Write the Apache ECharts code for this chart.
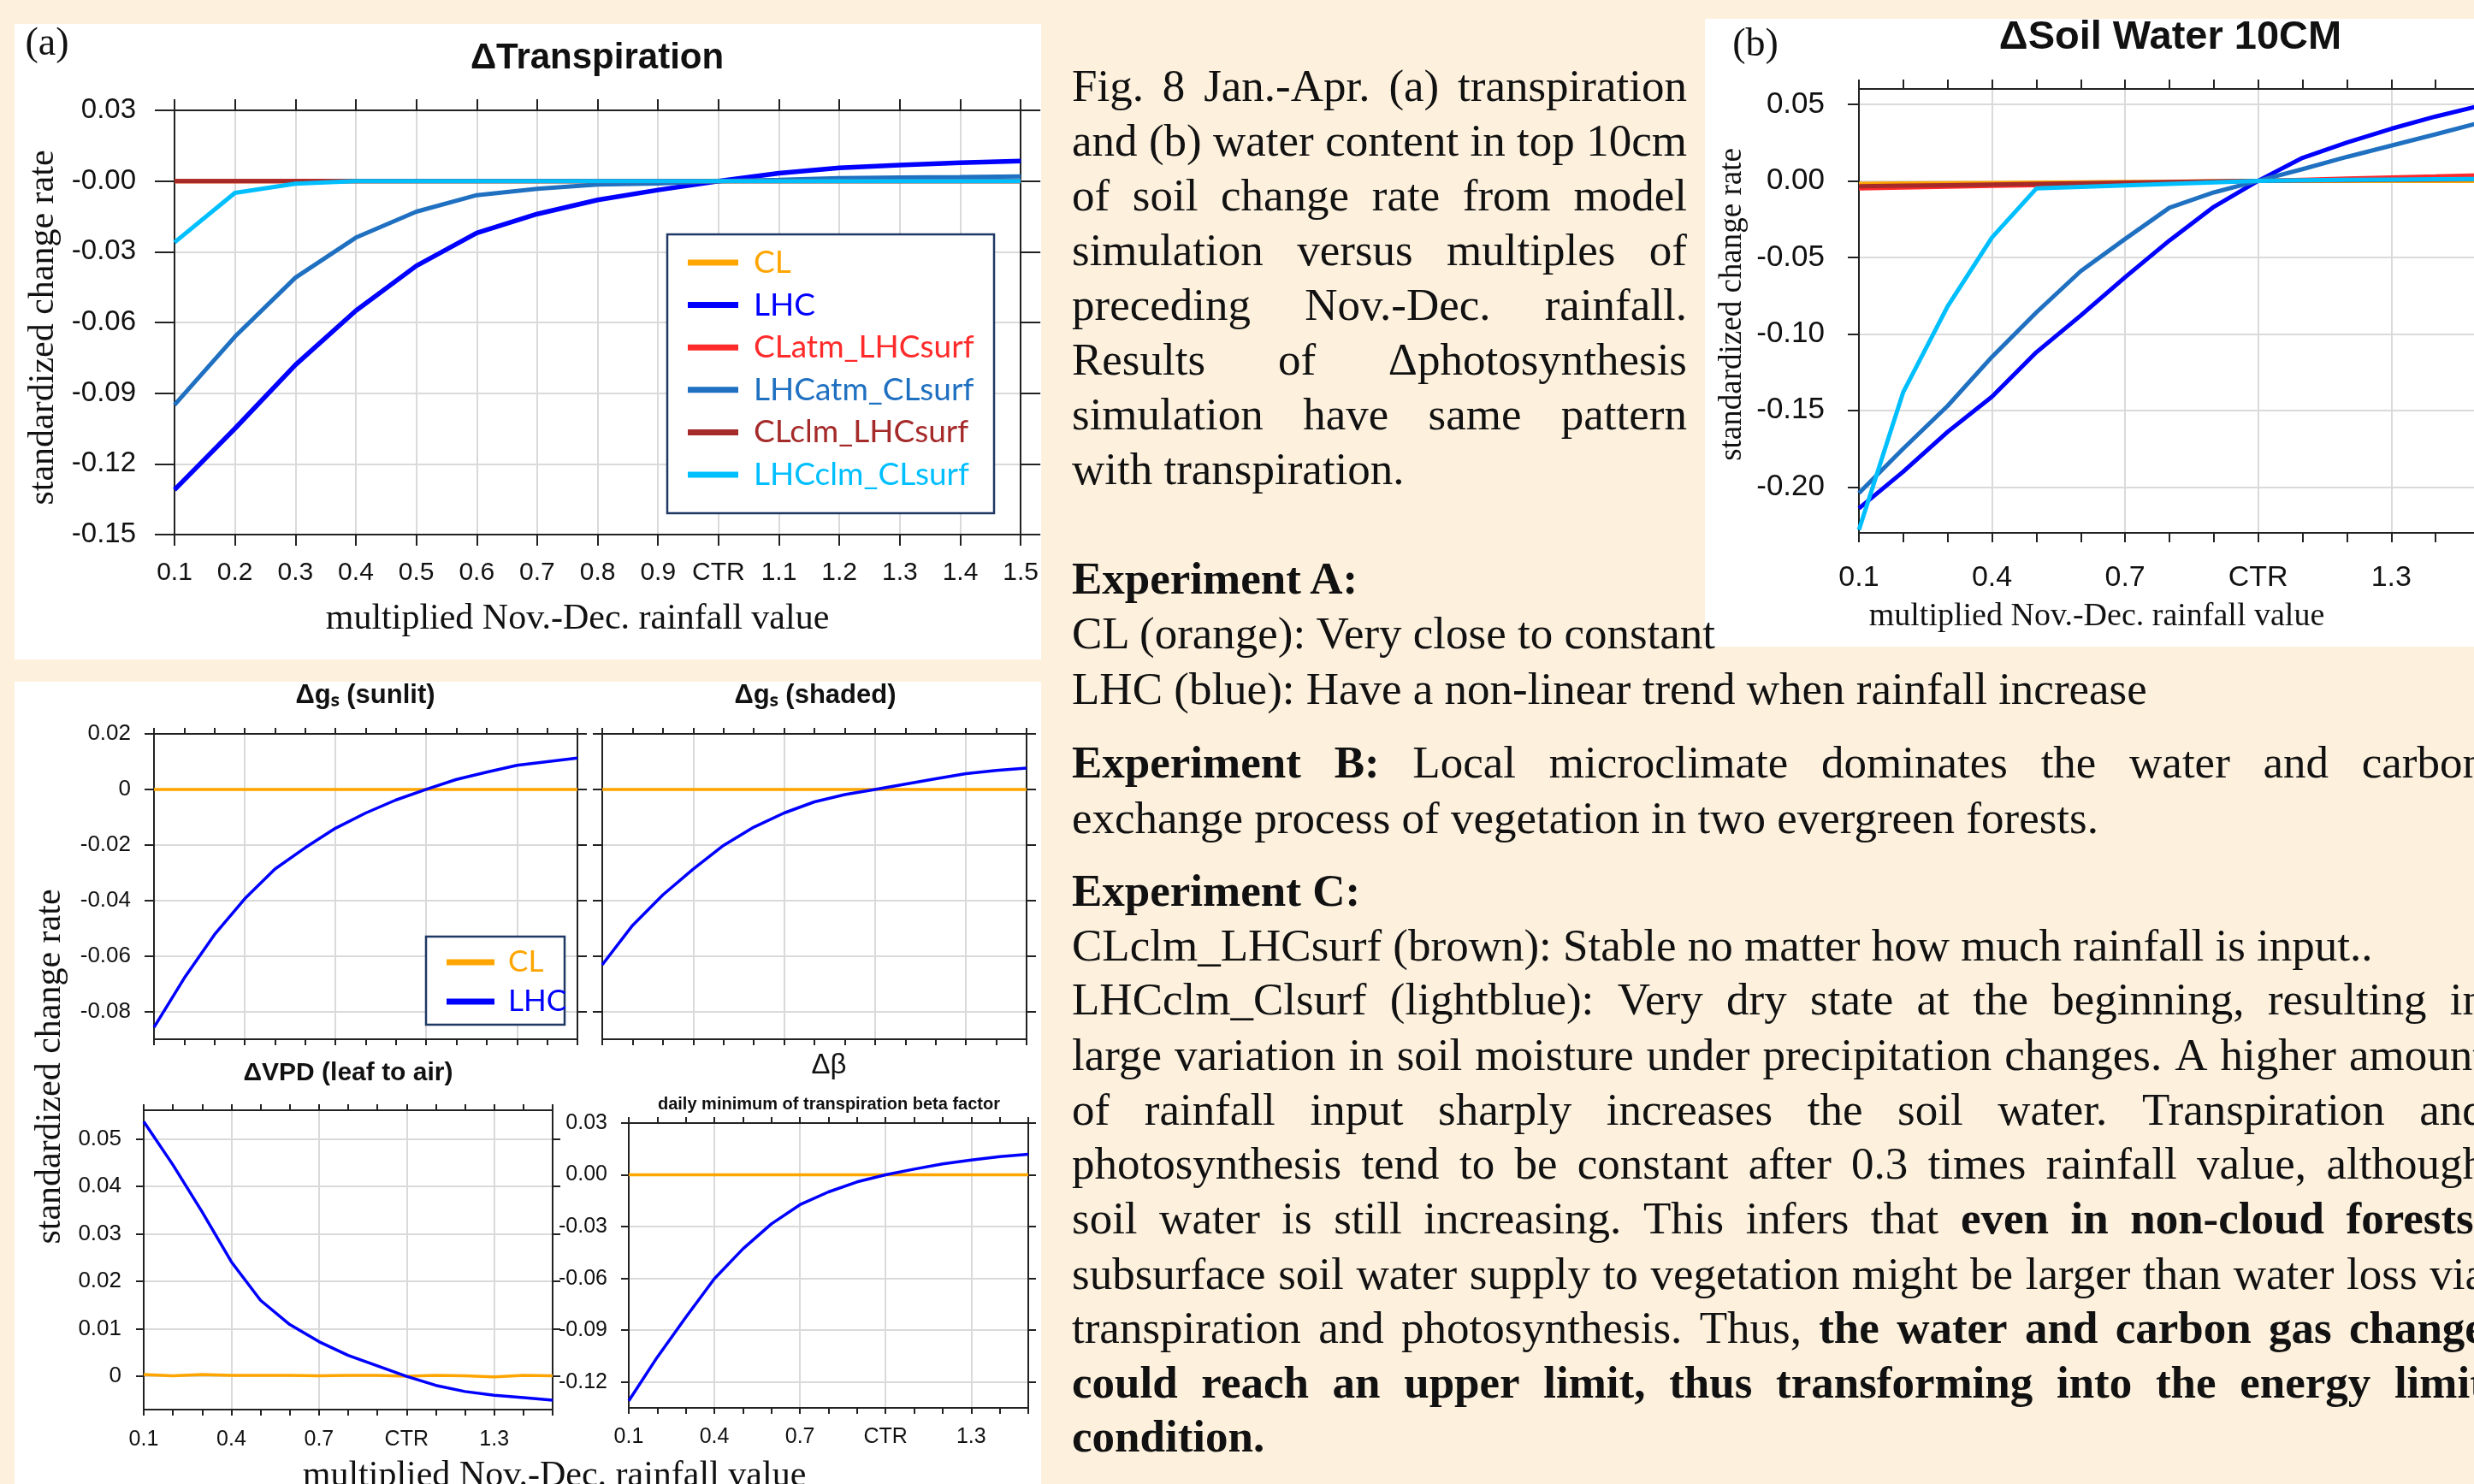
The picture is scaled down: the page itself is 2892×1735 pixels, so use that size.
<!DOCTYPE html>
<html>
<head>
<meta charset="utf-8">
<script src="https://cdn.jsdelivr.net/npm/echarts@6/dist/echarts.min.js"></script>
<style>
  html, body { margin: 0; padding: 0; overflow: hidden; }
  #page { position: relative; width: 2892px; height: 1735px; overflow: hidden; background: #fdf1de; }
  .panel { position: absolute; background: #fff; }
  .ln { position: absolute; left: 1253px; font-family: 'Liberation Serif', 'Times New Roman', serif;
        font-size: 53px; line-height: 64px; color: #111; white-space: pre; }
  .ln.j { display: flex; justify-content: space-between; }
  .ln b { font-weight: bold; }
</style>
</head>
<body>
<div id="page">
  <div id="chartA" class="panel" style="left:17px;top:28px;width:1200px;height:743px"></div>
  <div id="chartB" class="panel" style="left:1993px;top:22px;width:1000px;height:734px"></div>
  <div id="chartC" class="panel" style="left:17px;top:797px;width:1200px;height:938px"></div>
</div>
<script>
// x categories shared by every panel
const cats = ['0.1', '0.2', '0.3', '0.4', '0.5', '0.6', '0.7', '0.8', '0.9', 'CTR', '1.1', '1.2', '1.3', '1.4', '1.5'];

// (a) delta transpiration
const transCL = [0, 0, 0, 0, 0, 0, 0, 0, 0, 0, 0, 0, 0, 0, 0];
const transLHC = [-0.131, -0.105, -0.078, -0.055, -0.036, -0.022, -0.014, -0.008, -0.0038, 0, 0.0033, 0.0056, 0.0068, 0.0078, 0.0085];
const transCLatm = [0, 0, 0, 0, 0, 0, 0, 0, 0, 0, 0, 0, 0, 0, 0];
const transLHCatm = [-0.095, -0.066, -0.041, -0.024, -0.013, -0.006, -0.0033, -0.0015, -0.001, 0, 0.0005, 0.0012, 0.0015, 0.0017, 0.002];
const transCLclm = [0, 0, 0, 0, 0, 0, 0, 0, 0, 0, 0, 0, 0, 0, 0];
const transLHCclm = [-0.026, -0.005, -0.0011, 0, 0, 0, 0, 0, 0, 0, 0, 0, 0, 0, 0];

// (b) delta soil water 10cm
const soilCL = [-0.002, -0.0018, -0.0016, -0.0014, -0.0012, -0.001, -0.0008, -0.0006, -0.0003, 0, 0, 0, 0, 0, 0];
const soilLHC = [-0.214, -0.19, -0.164, -0.141, -0.112, -0.088, -0.063, -0.039, -0.017, 0, 0.015, 0.025, 0.034, 0.042, 0.049];
const soilCLatm = [-0.005, -0.0044, -0.0039, -0.0033, -0.0028, -0.0022, -0.0017, -0.0011, -0.0006, 0, 0.0007, 0.0014, 0.0021, 0.0028, 0.0036];
const soilLHCatm = [-0.204, -0.175, -0.147, -0.115, -0.086, -0.059, -0.038, -0.0176, -0.0076, 0, 0.0076, 0.0156, 0.023, 0.0304, 0.038];
const soilCLclm = [-0.0036, -0.0032, -0.0028, -0.0024, -0.002, -0.0016, -0.0012, -0.0008, -0.0004, 0, 0.0002, 0.0004, 0.0006, 0.0008, 0.001];
const soilLHCclm = [-0.228, -0.138, -0.082, -0.037, -0.005, -0.004, -0.003, -0.002, -0.001, 0, 0.0003, 0.0006, 0.0008, 0.001, 0.0012];
const soilTicks = [-0.2, -0.15, -0.1, -0.05, 0, 0.05];

// lower panels
const gsSunCL = [0, 0, 0, 0, 0, 0, 0, 0, 0, 0, 0, 0, 0, 0, 0];
const gsSunLHC = [-0.0857, -0.068, -0.0523, -0.0394, -0.0287, -0.021, -0.014, -0.0085, -0.0038, 0, 0.0036, 0.0062, 0.0087, 0.01, 0.0113];
const gsShadeCL = [0, 0, 0, 0, 0, 0, 0, 0, 0, 0, 0, 0, 0, 0, 0];
const gsShadeLHC = [-0.0632, -0.049, -0.038, -0.0287, -0.0202, -0.0136, -0.0085, -0.0045, -0.0019, 0, 0.0019, 0.0038, 0.0057, 0.0068, 0.0077];
const gsTicks = [-0.08, -0.06, -0.04, -0.02, 0, 0.02];
const vpdCL = [0.0004, 0.0001, 0.0004, 0.0002, 0.0002, 0.0002, 0.0001, 0.0002, 0.0002, 0, 0.0002, 0.0001, -0.0001, 0.0002, 0.0001];
const vpdLHC = [0.0536, 0.0445, 0.0346, 0.0241, 0.016, 0.0109, 0.0073, 0.0044, 0.0022, 0, -0.0019, -0.0032, -0.004, -0.0045, -0.005];
const vpdTicks = [0, 0.01, 0.02, 0.03, 0.04, 0.05];
const betaCL = [0, 0, 0, 0, 0, 0, 0, 0, 0, 0, 0, 0, 0, 0, 0];
const betaLHC = [-0.1309, -0.1056, -0.0825, -0.0602, -0.0429, -0.0284, -0.0173, -0.0099, -0.0041, 0, 0.0033, 0.0063, 0.0086, 0.0106, 0.0119];
const betaTicks = [-0.12, -0.09, -0.06, -0.03, 0, 0.03];

const expNames = ['CL', 'LHC', 'CLatm_LHCsurf', 'LHCatm_CLsurf', 'CLclm_LHCsurf', 'LHCclm_CLsurf'];
const expColors = ['#ffa500', '#0000ff', '#ff2a2a', '#1f70c1', '#a52a2a', '#00bfff'];

// poster text
const figLines = [
  'Fig. 8 Jan.-Apr. (a) transpiration',
  'and (b) water content in top 10cm',
  'of soil change rate from model',
  'simulation versus multiples of',
  'preceding Nov.-Dec. rainfall.',
  'Results of \u0394photosynthesis',
  'simulation have same pattern',
  'with transpiration.'
];
const noteLines = [
  '**Experiment A:**',
  'CL (orange): Very close to constant',
  'LHC (blue): Have a non-linear trend when rainfall increase',
  '**Experiment B:** Local microclimate dominates the water and carbon',
  'exchange process of vegetation in two evergreen forests.',
  '**Experiment C:**',
  'CLclm_LHCsurf (brown): Stable no matter how much rainfall is input..',
  'LHCclm_Clsurf (lightblue): Very dry state at the beginning, resulting in',
  'large variation in soil moisture under precipitation changes. A higher amount',
  'of rainfall input sharply increases the soil water. Transpiration and',
  'photosynthesis tend to be constant after 0.3 times rainfall value, although',
  'soil water is still increasing. This infers that **even in non-cloud forests,**',
  'subsurface soil water supply to vegetation might be larger than water loss via',
  'transpiration and photosynthesis. Thus, **the water and carbon gas change**',
  '**could reach an upper limit, thus transforming into the energy limit**',
  '**condition.**'
];
const noteTops = [644, 708, 773, 859, 924, 1009, 1073, 1136, 1201, 1265, 1328, 1392, 1457, 1520, 1584, 1647];
const noteJustified = [false, false, false, true, false, false, false, true, true, true, true, true, true, true, true, false];

const SANS = 'Liberation Sans';
const SERIF = 'Liberation Serif';
const INK = '#222';
const GRIDC = '#dadada';

function addLine(src, top, width) {
  const d = document.createElement('div');
  d.className = 'ln' + (width ? ' j' : '');
  d.style.top = top + 'px';
  if (width) d.style.width = width + 'px';
  src.split('**').forEach((seg, k) => {
    const parts = width ? seg.split(' ').filter(Boolean) : [seg];
    parts.forEach((w) => {
      const s = document.createElement(k % 2 ? 'b' : 'span');
      s.textContent = w;
      d.appendChild(s);
    });
  });
  document.getElementById('page').appendChild(d);
}

figLines.forEach((t, i) => addLine(t, 68 + 64 * i, i < figLines.length - 1 ? 719 : 0));
noteLines.forEach((t, i) => addLine(t, noteTops[i], noteJustified[i] ? 1652 : 0));

// one boxed plot: bottom/top category axes, left/right value axes, ticks pointing out
function frameAxes(gi, o) {
  const line = { show: true, onZero: false, lineStyle: { color: INK, width: 2 } };
  const tickX = { show: true, inside: false, interval: 0, length: o.xTick, lineStyle: { color: INK, width: 2 } };
  const tickY = { show: true, inside: false, length: o.yTick, lineStyle: { color: INK, width: 2 } };
  if (o.yTicks) tickY.customValues = o.yTicks;
  const x = [{
    type: 'category', gridIndex: gi, data: cats, boundaryGap: false, position: 'bottom',
    axisLine: line, axisTick: tickX,
    axisLabel: { show: o.xLabels, interval: o.xEvery - 1, margin: o.xMargin, fontSize: o.xFont, color: '#111', fontFamily: SANS },
    splitLine: { show: true, interval: o.xEvery - 1, lineStyle: { color: GRIDC, width: 2 } }
  }, {
    type: 'category', gridIndex: gi, data: cats, boundaryGap: false, position: 'top',
    axisLine: line, axisTick: tickX, axisLabel: { show: false }, splitLine: { show: false }
  }];
  const yLab = { show: o.yLabels, margin: o.yMargin, fontSize: o.yFont, color: '#111', fontFamily: SANS, formatter: o.yFmt };
  if (o.yTicks) yLab.customValues = o.yTicks;
  const yBase = { type: 'value', gridIndex: gi, min: o.yMin, max: o.yMax };
  if (o.yStep) yBase.interval = o.yStep; else yBase.splitNumber = o.ySplit;
  const y = [
    Object.assign({}, yBase, { position: 'left', axisLine: line, axisTick: tickY, axisLabel: yLab,
      splitLine: { show: true, lineStyle: { color: GRIDC, width: 2 } } }),
    Object.assign({}, yBase, { position: 'right', axisLine: line, axisTick: tickY,
      axisLabel: { show: false }, splitLine: { show: false } })
  ];
  return { x, y };
}

function lineSeries(name, data, color, width, gi) {
  return {
    name, type: 'line', data, xAxisIndex: gi * 2, yAxisIndex: gi * 2,
    symbol: 'none', color, itemStyle: { color }, lineStyle: { color, width },
    silent: true, animation: false
  };
}

function label(text, x, y, size, extra, styleExtra) {
  return Object.assign({
    type: 'text', x, y, z: 10,
    style: Object.assign({
      text, fontSize: size, fontFamily: SANS, fill: '#111',
      textAlign: 'center', textVerticalAlign: 'middle'
    }, styleExtra)
  }, extra);
}

const fixed2 = (v) => v.toFixed(2);
const zeroPlain = (v) => (Math.abs(v) < 1e-9 ? '0' : v.toFixed(2));

// ---------- (a) transpiration ----------
const chartA = echarts.init(document.getElementById('chartA'));
const fa = frameAxes(0, {
  xEvery: 1, xLabels: true, xFont: 30, xMargin: 30, xTick: 13,
  yMin: -0.15, yMax: 0.03, yStep: 0.03, yLabels: true, yFont: 33, yMargin: 45, yTick: 23,
  yFmt: (v) => (Math.abs(v) < 1e-9 ? '-0.00' : v.toFixed(2))
});
const transData = [transCL, transLHC, transCLatm, transLHCatm, transCLclm, transLHCclm];
chartA.setOption({
  animation: false,
  grid: [{ left: 187, top: 101, width: 990, height: 496 }],
  xAxis: fa.x,
  yAxis: fa.y,
  legend: {
    orient: 'vertical', left: 787, top: 259, padding: 0, itemGap: 9.6,
    itemWidth: 59, itemHeight: 7, icon: 'rect', z: 10, selectedMode: false,
    textStyle: { fontFamily: 'Lato', fontSize: 37, lineHeight: 40, padding: [0, 0, 0, 13] },
    data: expNames.map((n, i) => ({ name: n, textStyle: { color: expColors[i] } }))
  },
  graphic: [
    { type: 'rect', z: 5, shape: { x: 763, y: 246, width: 382, height: 326 },
      style: { fill: '#fff', stroke: '#1f3864', lineWidth: 2.5 } },
    label('(a)', 38, 24, 46, {}, { fontFamily: SERIF }),
    label('\u0394Transpiration', 681, 40, 42, {}, { fontWeight: 'bold' }),
    label('standardized change rate', 34, 355, 42, { rotation: Math.PI / 2 }, { fontFamily: SERIF }),
    label('multiplied Nov.-Dec. rainfall value', 658, 696, 42, {}, { fontFamily: SERIF })
  ],
  series: expNames.map((n, i) => lineSeries(n, transData[i], expColors[i], i === 1 ? 5.5 : 5, 0))
});

// ---------- (b) soil water ----------
const chartB = echarts.init(document.getElementById('chartB'));
const fb = frameAxes(0, {
  xEvery: 3, xLabels: true, xFont: 34, xMargin: 36, xTick: 11,
  yMin: -0.23, yMax: 0.06, ySplit: 6, yTicks: soilTicks, yLabels: true, yFont: 35, yMargin: 40, yTick: 13,
  yFmt: fixed2
});
const soilData = [soilCL, soilLHC, soilCLatm, soilLHCatm, soilCLclm, soilLHCclm];
chartB.setOption({
  animation: false,
  grid: [{ left: 180, top: 82, width: 726, height: 519 }],
  xAxis: fb.x,
  yAxis: fb.y,
  graphic: [
    label('(b)', 59, 31, 46, {}, { fontFamily: SERIF }),
    label('\u0394Soil Water 10CM', 544, 22, 47, {}, { fontWeight: 'bold' }),
    label('standardized change rate', 32, 334, 37, { rotation: Math.PI / 2 }, { fontFamily: SERIF }),
    label('multiplied Nov.-Dec. rainfall value', 458, 699, 38, {}, { fontFamily: SERIF })
  ],
  series: expNames.map((n, i) => lineSeries(n, soilData[i], expColors[i], 5, 0))
});

// ---------- lower four panels ----------
const chartC = echarts.init(document.getElementById('chartC'));
const lower = [
  frameAxes(0, { xEvery: 3, xLabels: false, xTick: 7, yMin: -0.09, yMax: 0.02, ySplit: 5, yTicks: gsTicks,
    yLabels: true, yFont: 26, yMargin: 27, yTick: 11, yFmt: zeroPlain }),
  frameAxes(1, { xEvery: 3, xLabels: false, xTick: 7, yMin: -0.09, yMax: 0.02, ySplit: 5, yTicks: gsTicks,
    yLabels: false, yTick: 11, yFmt: zeroPlain }),
  frameAxes(2, { xEvery: 3, xLabels: true, xFont: 25, xMargin: 23, xTick: 7, yMin: -0.007, yMax: 0.056, ySplit: 5,
    yTicks: vpdTicks, yLabels: true, yFont: 26, yMargin: 26, yTick: 9, yFmt: zeroPlain }),
  frameAxes(3, { xEvery: 3, xLabels: true, xFont: 25, xMargin: 22, xTick: 7, yMin: -0.135, yMax: 0.03, ySplit: 5,
    yTicks: betaTicks, yLabels: true, yFont: 25, yMargin: 25, yTick: 9, yFmt: fixed2 })
];
const lowerData = [[gsSunCL, gsSunLHC], [gsShadeCL, gsShadeLHC], [vpdCL, vpdLHC], [betaCL, betaLHC]];
const lowerSeries = [];
lowerData.forEach((pair, gi) => {
  lowerSeries.push(lineSeries('CL', pair[0], expColors[0], 3.5, gi));
  lowerSeries.push(lineSeries('LHC', pair[1], expColors[1], 3.5, gi));
});
chartC.setOption({
  animation: false,
  grid: [
    { left: 163, top: 61, width: 495, height: 357 },
    { left: 687, top: 61, width: 496, height: 357 },
    { left: 151, top: 501, width: 478, height: 350 },
    { left: 718, top: 516, width: 467, height: 333 }
  ],
  xAxis: [].concat(...lower.map((f) => f.x)),
  yAxis: [].concat(...lower.map((f) => f.y)),
  legend: {
    orient: 'vertical', left: 505, top: 310, padding: 0, itemGap: 10,
    itemWidth: 56, itemHeight: 7, icon: 'rect', z: 10, selectedMode: false,
    textStyle: { fontFamily: 'Lato', fontSize: 35, lineHeight: 36, padding: [0, 0, 0, 11] },
    data: [
      { name: 'CL', textStyle: { color: expColors[0] } },
      { name: 'LHC', textStyle: { color: expColors[1] } }
    ]
  },
  graphic: [
    { type: 'rect', z: 5, shape: { x: 481, y: 298, width: 162, height: 103 },
      style: { fill: '#fff', stroke: '#1f3864', lineWidth: 2.5 } },
    label('\u0394g\u209B (sunlit)', 410, 16, 31, {}, { fontWeight: 'bold' }),
    label('\u0394g\u209B (shaded)', 936, 16, 31, {}, { fontWeight: 'bold' }),
    label('\u0394VPD (leaf to air)', 390, 458, 30, {}, { fontWeight: 'bold' }),
    label('\u0394\u03B2', 952, 449, 33),
    label('daily minimum of transpiration beta factor', 952, 494, 20, {}, { fontWeight: 'bold' }),
    label('standardized change rate', 42, 450, 42, { rotation: Math.PI / 2 }, { fontFamily: SERIF }),
    label('multiplied Nov.-Dec. rainfall value', 631, 929, 42, {}, { fontFamily: SERIF })
  ],
  series: lowerSeries
});
</script>
</body>
</html>
